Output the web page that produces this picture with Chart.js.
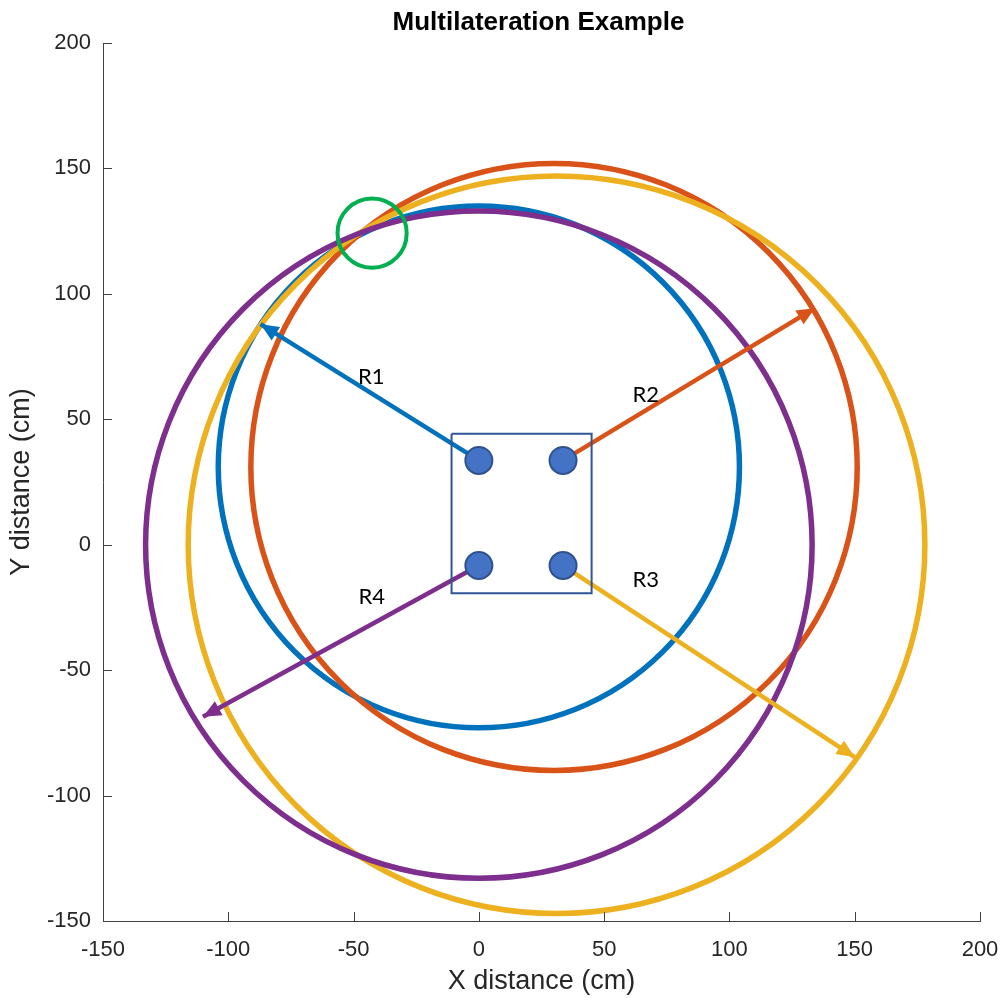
<!DOCTYPE html>
<html lang="en">
<head>
  <meta charset="UTF-8" />
  <title>Multilateration Example</title>
  <script src="https://cdn.jsdelivr.net/npm/chart.js"></script>
  <style>
    html, body { margin: 0; padding: 0; background: #fff; }
    .chart-wrapper { width: 1003px; height: 998px; }
  </style>
</head>
<body>
<div class="chart-wrapper">
  <canvas id="mlatChart"></canvas>
</div>

<script>
  // axis ticks
  const xTicks = [-150, -100, -50, 0, 50, 100, 150, 200];
  const yTicks = [-150, -100, -50, 0, 50, 100, 150, 200];

  // range circles (R1..R4)
  const rangeNames = ['R1', 'R2', 'R3', 'R4'];
  const circleX = [0, 30, 31, 0];
  const circleY = [31, 31, 0, 0];
  const circleR = [104, 121, 147, 133];

  // sensor positions (arrow starts)
  const sensorX = [0, 33.6, 33.6, 0];
  const sensorY = [33.6, 33.6, -8.3, -8.3];

  // arrow tips
  const tipX = [-87.1, 134.1, 150, -110.1];
  const tipY = [87.9, 94.3, -84.7, -68.6];

  // label positions
  const labelX = [-42.9, 66.6, 66.6, -42.7];
  const labelY = [66.9, 59.7, -14, -20.8];

  // sensor box
  const boxX = [-10.9, 45, 45, -10.9, -10.9];
  const boxY = [44.2, 44.2, -19.3, -19.3, 44.2];

  // highlighted intersection
  const hitX = [-42.6];
  const hitY = [124.2];
  const hitR = [13.8];

  const colors = ['#0072BD', '#D95319', '#EDB120', '#7E2F8E'];
  const axisFont = "'Liberation Sans', Arial, sans-serif";
  const textColor = '#262626';

  function ring(chart, cx, cy, r, color, width) {
    const { ctx, scales: { x, y } } = chart;
    const px = x.getPixelForValue(cx);
    const py = y.getPixelForValue(cy);
    const rx = x.getPixelForValue(cx + r) - px;
    const ry = py - y.getPixelForValue(cy + r);
    ctx.save();
    ctx.strokeStyle = color;
    ctx.lineWidth = width;
    ctx.beginPath();
    ctx.ellipse(px, py, rx, ry, 0, 0, Math.PI * 2);
    ctx.stroke();
    ctx.restore();
  }

  const ringsPlugin = {
    id: 'rings',
    beforeDatasetsDraw(chart) {
      for (let i = 0; i < circleR.length; i++) {
        ring(chart, circleX[i], circleY[i], circleR[i], colors[i], 5.5);
      }
    },
    afterDatasetsDraw(chart) {
      const { ctx, scales: { x, y } } = chart;
      // arrow heads
      ctx.save();
      for (let i = 0; i < rangeNames.length; i++) {
        const meta = chart.getDatasetMeta(2 + i);
        const p0 = meta.data[0], p1 = meta.data[1];
        const a = Math.atan2(p1.y - p0.y, p1.x - p0.x);
        const len = 18, half = 8;
        ctx.fillStyle = colors[i];
        ctx.beginPath();
        ctx.moveTo(p1.x, p1.y);
        ctx.lineTo(p1.x - len * Math.cos(a) - half * Math.sin(a), p1.y - len * Math.sin(a) + half * Math.cos(a));
        ctx.lineTo(p1.x - len * Math.cos(a) + half * Math.sin(a), p1.y - len * Math.sin(a) - half * Math.cos(a));
        ctx.closePath();
        ctx.fill();
      }
      // labels
      ctx.fillStyle = '#000';
      ctx.font = "22px Lato, 'Open Sans', sans-serif";
      ctx.textAlign = 'center';
      ctx.textBaseline = 'middle';
      for (let i = 0; i < rangeNames.length; i++) {
        ctx.fillText(rangeNames[i], x.getPixelForValue(labelX[i]), y.getPixelForValue(labelY[i]));
      }
      ctx.restore();
      ring(chart, hitX[0], hitY[0], hitR[0], '#00B050', 4);
    },
    afterDraw(chart) {
      const { ctx, chartArea, scales: { x, y } } = chart;
      ctx.save();
      ctx.strokeStyle = '#404040';
      ctx.lineWidth = 1;
      ctx.beginPath();
      x.ticks.forEach(t => {
        const px = Math.round(x.getPixelForValue(t.value)) + 0.5;
        ctx.moveTo(px, chartArea.bottom);
        ctx.lineTo(px, chartArea.bottom - 9);
      });
      y.ticks.forEach(t => {
        const py = Math.round(y.getPixelForValue(t.value)) + 0.5;
        ctx.moveTo(chartArea.left, py);
        ctx.lineTo(chartArea.left + 9, py);
      });
      ctx.stroke();
      // title
      ctx.fillStyle = '#000';
      ctx.font = "bold 26px " + axisFont;
      ctx.textAlign = 'center';
      ctx.textBaseline = 'middle';
      ctx.fillText('Multilateration Example', (chartArea.left + chartArea.right) / 2 - 3, 23);
      ctx.restore();
    }
  };

  const datasets = [
    {
      label: 'Sensors',
      data: sensorX.map((v, i) => ({ x: v, y: sensorY[i] })),
      showLine: false,
      pointRadius: 13.5,
      backgroundColor: '#4472C4',
      borderColor: '#2F528F',
      borderWidth: 2
    },
    {
      label: 'Box',
      data: boxX.map((v, i) => ({ x: v, y: boxY[i] })),
      showLine: true,
      borderColor: '#2F5597',
      borderWidth: 2,
      pointRadius: 0
    }
  ];
  for (let i = 0; i < rangeNames.length; i++) {
    datasets.push({
      label: rangeNames[i],
      data: [{ x: sensorX[i], y: sensorY[i] }, { x: tipX[i], y: tipY[i] }],
      showLine: true,
      borderColor: colors[i],
      borderWidth: 4.5,
      pointRadius: 0
    });
  }

  const config = {
    type: 'scatter',
    data: { datasets: datasets },
    options: {
      responsive: true,
      maintainAspectRatio: false,
      animation: false,
      events: [],
      layout: { padding: { top: 43, right: 23, bottom: 0, left: 0 } },
      plugins: { legend: { display: false }, tooltip: { enabled: false } },
      scales: {
        x: {
          type: 'linear',
          min: -150,
          max: 200,
          afterBuildTicks: s => { s.ticks = xTicks.map(v => ({ value: v })); },
          afterFit: s => { s.height = 77; s.paddingRight = 0; s.paddingLeft = 0; },
          grid: { display: false, drawTicks: false, tickLength: 0 },
          border: { display: true, color: '#404040', width: 1 },
          ticks: { color: textColor, font: { family: axisFont, size: 22 }, padding: 16, maxRotation: 0 },
          title: {
            display: true,
            text: 'X distance (cm)',
            color: textColor,
            font: { family: axisFont, size: 27 },
            padding: { top: 0, bottom: 0 }
          }
        },
        y: {
          type: 'linear',
          min: -150,
          max: 200,
          afterBuildTicks: s => { s.ticks = yTicks.map(v => ({ value: v })); },
          afterFit: s => { s.width = 103; },
          grid: { display: false, drawTicks: false, tickLength: 0 },
          border: { display: true, color: '#404040', width: 1 },
          ticks: { color: textColor, font: { family: axisFont, size: 22 }, padding: 12 },
          title: {
            display: true,
            text: 'Y distance (cm)',
            color: textColor,
            font: { family: axisFont, size: 27 },
            padding: { top: 5, bottom: 0 }
          }
        }
      }
    },
    plugins: [ringsPlugin]
  };

  new Chart(document.getElementById('mlatChart').getContext('2d'), config);
</script>
</body>
</html>
